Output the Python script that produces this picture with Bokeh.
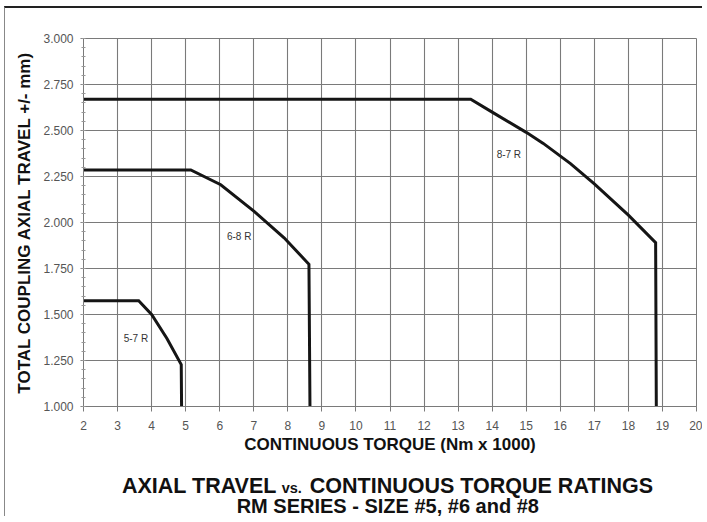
from bokeh.plotting import figure
from bokeh.models import Label, FixedTicker, NumeralTickFormatter, Range1d
from bokeh.layouts import column
from bokeh.core.properties import value
from bokeh.embed import file_html
from bokeh.resources import INLINE

# ---- data ----
x_ticks = list(range(2, 21))
y_ticks = [1.0, 1.25, 1.5, 1.75, 2.0, 2.25, 2.5, 2.75, 3.0]

s87_x = [2.0, 13.37, 14.0, 15.0, 15.5, 16.3, 17.0, 18.0, 18.8, 18.82]
s87_y = [2.67, 2.67, 2.60, 2.49, 2.43, 2.32, 2.21, 2.04, 1.89, 1.0]

s68_x = [2.0, 5.15, 6.03, 7.01, 7.89, 8.62, 8.65]
s68_y = [2.286, 2.286, 2.205, 2.061, 1.917, 1.773, 1.0]

s57_x = [2.0, 3.62, 4.0, 4.45, 4.87, 4.88]
s57_y = [1.575, 1.575, 1.50, 1.37, 1.228, 1.0]

series_names = ["8-7 R", "6-8 R", "5-7 R"]
label_x = [14.49, 6.57, 3.54]
label_y = [2.367, 1.924, 1.370]

title_parts = ["AXIAL TRAVEL", "vs.", "CONTINUOUS TORQUE RATINGS"]
subtitle = "RM SERIES - SIZE #5, #6 and #8"
x_title = "CONTINUOUS TORQUE (Nm x 1000)"
y_title = "TOTAL COUPLING AXIAL TRAVEL +/- mm)"

FONT = "Liberation Sans"
W = 697

p = figure(width=W, height=448, x_range=(2, 20), y_range=(1, 3),
           output_backend="svg", toolbar_location=None,
           min_border_left=78, min_border_right=6, min_border_top=30,
           min_border_bottom=47)
p.background_fill_color = "white"
p.border_fill_color = "white"
p.outline_line_color = "#7a7a7a"
p.outline_line_width = 1

for g in (p.xgrid, p.ygrid):
    g.grid_line_color = "#7a7a7a"
    g.grid_line_width = 1.1
p.xaxis.ticker = FixedTicker(ticks=x_ticks)
p.yaxis.ticker = FixedTicker(ticks=y_ticks,
                             minor_ticks=[1 + 0.05 * i for i in range(41)])
p.yaxis.formatter = NumeralTickFormatter(format="0.000")

for ax in (p.xaxis, p.yaxis):
    ax.axis_line_color = "#7a7a7a"
    ax.major_tick_line_color = "#7a7a7a"
    ax.major_label_text_font = FONT
    ax.major_label_text_font_size = "12px"
    ax.major_label_text_color = "#555555"
    ax.axis_label_text_font = FONT
    ax.axis_label_text_font_style = "bold"
    ax.axis_label_text_font_size = "17px"
    ax.axis_label_text_color = "#111111"

p.xaxis.major_tick_in = 0
p.xaxis.major_tick_out = 5
p.xaxis.minor_tick_line_color = None
p.xaxis.major_label_standoff = 9
p.xaxis.axis_label = x_title
p.xaxis.axis_label_standoff = 2

p.yaxis.major_tick_in = 0
p.yaxis.major_tick_out = 3
p.yaxis.minor_tick_in = 2
p.yaxis.minor_tick_out = 2
p.yaxis.minor_tick_line_color = "#999999"
p.yaxis.major_label_standoff = 7
p.yaxis.axis_label = y_title
p.yaxis.axis_label_standoff = 6

for xs, ys in ((s87_x, s87_y), (s68_x, s68_y), (s57_x, s57_y)):
    p.line(xs, ys, line_color="#151515", line_width=3, line_join="miter")

for name, lx, ly in zip(series_names, label_x, label_y):
    p.add_layout(Label(x=lx, y=ly, text=name, text_font=FONT,
                       text_font_size="10px", text_color="#333333",
                       text_align="center", text_baseline="middle"))

# ---- bottom title block ----
# The column layout aligns this figure's frame with the chart frame
# (page x 82.7 .. 695.7), so the x range is expressed in page pixels.
t = figure(width=W, height=60, x_range=Range1d(82.7, 695.7),
           y_range=Range1d(516, 456), output_backend="svg",
           toolbar_location=None, min_border=0,
           x_axis_type=None, y_axis_type=None)
t.grid.visible = False
t.outline_line_color = None
t.background_fill_color = "white"
t.border_fill_color = "white"

t.text(x=[276], y=[485], text=[title_parts[0]], text_font=value(FONT),
       text_font_style="bold", text_font_size="21.5px", text_color="#111111",
       text_align="right", text_baseline="middle")
t.text(x=[291], y=[487], text=[title_parts[1]], text_font=value(FONT),
       text_font_style="bold", text_font_size="14.5px", text_color="#111111",
       text_align="center", text_baseline="middle")
t.text(x=[309], y=[485], text=[title_parts[2]], text_font=value(FONT),
       text_font_style="bold", text_font_size="21.5px", text_color="#111111",
       text_align="left", text_baseline="middle")
t.text(x=[387], y=[505], text=[subtitle], text_font=value(FONT),
       text_font_style="bold", text_font_size="20px", text_color="#111111",
       text_align="center", text_baseline="middle")

layout = column(p, t, spacing=0, margin=(6, 0, 0, 4),
                styles={"border-top": "2px solid #222",
                        "border-left": "1px solid #888"})

open("out.html", "w").write(file_html(layout, INLINE))
